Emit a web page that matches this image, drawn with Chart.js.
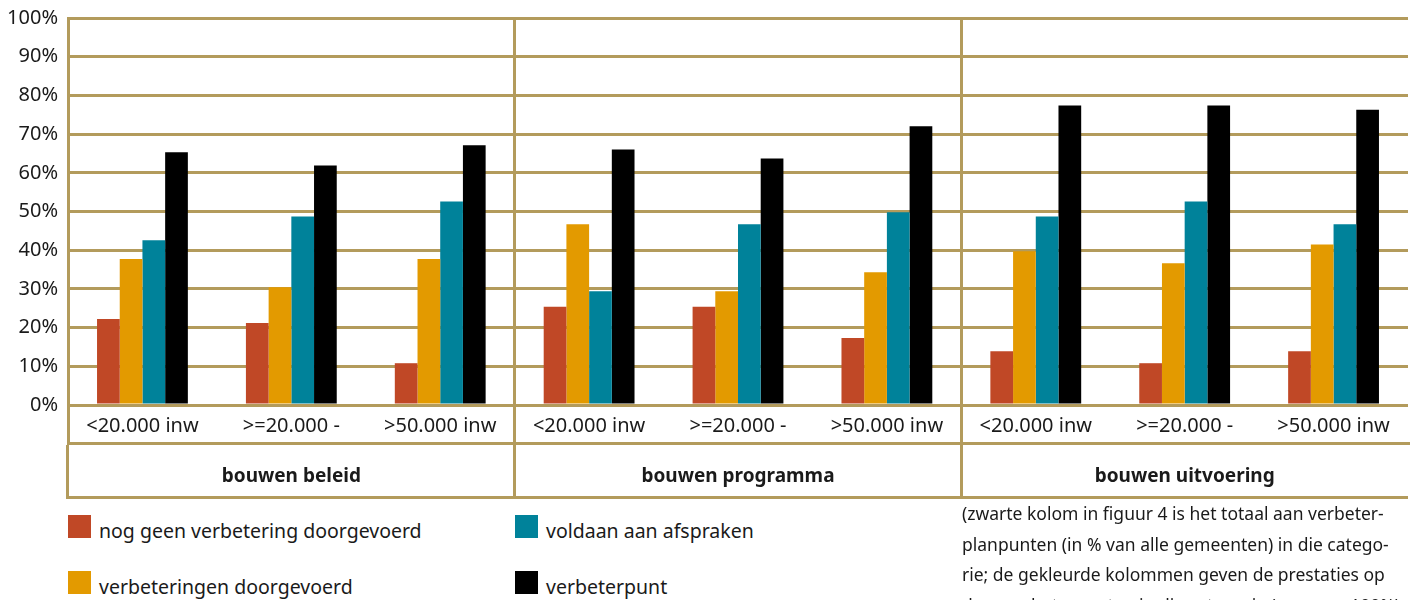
<!DOCTYPE html>
<html lang="nl">
<head>
<meta charset="UTF-8">
<title>Verbeterpunten bouwen</title>
<script src="https://cdn.jsdelivr.net/npm/chart.js"></script>
<style>
  body { margin: 0; background: #fff; font-family: "Noto Sans", sans-serif; color: #1a1a1a; }
  .wrap { position: relative; width: 1413px; height: 600px; overflow: hidden; }
  .grafiek { position: absolute; left: 0; top: 0; width: 1413px; height: 500px; }
  .item { position: absolute; font-size: 19.5px; line-height: 23px; white-space: nowrap; }
  .item i { display: inline-block; width: 23px; height: 23px; vertical-align: baseline; margin-right: 8px; }
  .noot { position: absolute; left: 962px; top: 498px; font-size: 17.5px; line-height: 30.5px; white-space: nowrap; }
</style>
</head>
<body>
<div class="wrap">
  <div class="grafiek"><canvas id="grafiek"></canvas></div>
  <div class="item" style="left:68px;top:515px"><i style="background:#c04826"></i>nog geen verbetering doorgevoerd</div>
  <div class="item" style="left:68px;top:571px"><i style="background:#e39a00"></i>verbeteringen doorgevoerd</div>
  <div class="item" style="left:515px;top:515px"><i style="background:#00829a"></i>voldaan aan afspraken</div>
  <div class="item" style="left:515px;top:571px"><i style="background:#000"></i>verbeterpunt</div>
  <div class="noot">(zwarte kolom in figuur 4 is het totaal aan verbeter-<br>planpunten (in % van alle gemeenten) in die catego-<br>rie; de gekleurde kolommen geven de prestaties op<br>deze verbeterpunten in die categorie (samen = 100%)</div>
</div>
<script>
const categorieen = ['<20.000 inw', '>=20.000 -', '>50.000 inw',
                     '<20.000 inw', '>=20.000 -', '>50.000 inw',
                     '<20.000 inw', '>=20.000 -', '>50.000 inw'];
const groepen = ['bouwen beleid', 'bouwen programma', 'bouwen uitvoering'];
const nogGeenVerbetering = [22.2, 21.2, 10.8, 25.4, 25.4, 17.3, 13.9, 10.8, 13.9];
const verbeteringenDoorgevoerd = [37.7, 30.4, 37.7, 46.7, 29.4, 34.3, 39.7, 36.6, 41.5];
const voldaanAanAfspraken = [42.6, 48.7, 52.6, 29.4, 46.7, 49.8, 48.7, 52.6, 46.7];
const verbeterpunt = [65.3, 61.9, 67.1, 66.0, 63.7, 72.0, 77.4, 77.4, 76.3];

const goud = '#b39b5c';

// lijn onder de groepsnamen
const onderlijn = {
  id: 'onderlijn',
  afterDraw(chart) {
    const s = chart.scales.x2;
    const c = chart.ctx;
    c.save();
    c.strokeStyle = goud;
    c.lineWidth = 3;
    c.beginPath();
    c.moveTo(chart.chartArea.left - 1.5, s.bottom - 1.5);
    c.lineTo(chart.chartArea.right, s.bottom - 1.5);
    c.stroke();
    c.restore();
  }
};

new Chart(document.getElementById('grafiek'), {
  type: 'bar',
  data: {
    labels: categorieen,
    datasets: [
      { label: 'nog geen verbetering doorgevoerd', data: nogGeenVerbetering, backgroundColor: '#c04826' },
      { label: 'verbeteringen doorgevoerd', data: verbeteringenDoorgevoerd, backgroundColor: '#e39a00' },
      { label: 'voldaan aan afspraken', data: voldaanAanAfspraken, backgroundColor: '#00829a' },
      { label: 'verbeterpunt', data: verbeterpunt, backgroundColor: '#000000' }
    ]
  },
  options: {
    responsive: true,
    maintainAspectRatio: false,
    animation: false,
    categoryPercentage: 0.61,
    barPercentage: 1,
    layout: { padding: { top: 18, right: 5, bottom: 1, left: 0 } },
    plugins: { legend: { display: false }, tooltip: { enabled: false } },
    scales: {
      y: {
        min: 0, max: 100,
        afterFit(s) { s.width = 68; s.paddingTop = 0; s.paddingBottom = 0; },
        ticks: { stepSize: 10, padding: 10, color: '#1a1a1a', font: { family: 'Noto Sans', size: 20 },
                 callback: v => v + '%' },
        grid: { color: goud, lineWidth: 3, drawTicks: false },
        border: { display: true, color: goud, width: 3 }
      },
      x: {
        afterFit(s) { s.height = 38; },
        ticks: { padding: -29, color: '#1a1a1a', maxRotation: 0, autoSkip: false,
                 font: { family: 'Noto Sans', size: 20 } },
        grid: { offset: true, tickLength: 38, lineWidth: 3,
                color: c => (c.index !== undefined && c.index % 3 === 0) ? goud : 'rgba(0,0,0,0)' },
        border: { display: false }
      },
      x2: {
        type: 'category',
        labels: groepen,
        position: 'bottom',
        offset: true,
        afterFit(s) { s.height = 56; },
        ticks: { padding: -34, color: '#1a1a1a', maxRotation: 0,
                 font: { family: 'Noto Sans', size: 19, weight: 'bold' } },
        grid: { offset: true, drawOnChartArea: false, tickLength: 56, lineWidth: 3,
                color: c => (c.index !== undefined && c.index < 3) ? goud : 'rgba(0,0,0,0)' },
        border: { display: true, color: goud, width: 3 }
      }
    }
  },
  plugins: [onderlijn]
});
</script>
</body>
</html>
